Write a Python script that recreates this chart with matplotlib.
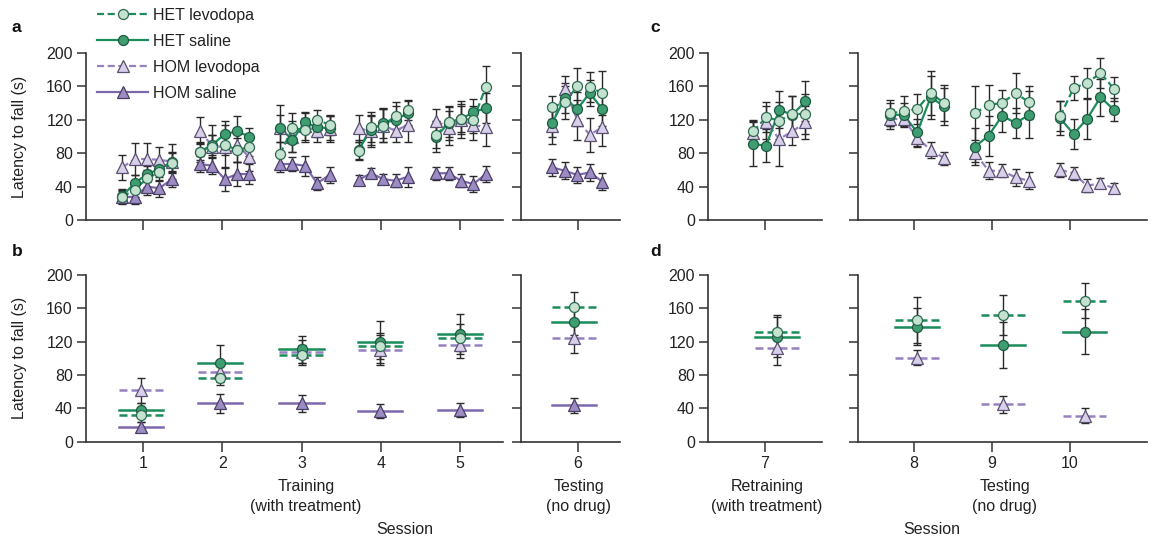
import matplotlib
matplotlib.use("Agg")
import matplotlib.pyplot as plt
from matplotlib.lines import Line2D

plt.rcParams['font.family'] = ['Liberation Sans', 'DejaVu Sans']

# ---------------- data ----------------
sessions = [1, 2, 3, 4, 5, 6, 7, 8, 9, 10]
series_names = ['HET levodopa', 'HET saline', 'HOM levodopa', 'HOM saline']

# top panels (a, c): per-trial latency (5 trials per session)
het_lev_trials = [[28, 36, 50, 57, 68], [82, 88, 90, 84, 87], [79, 110, 108, 120, 114],
                  [83, 111, 113, 125, 132], [102, 117, 121, 120, 159], [135, 141, 160, 159, 152],
                  [106, 123, 119, 127, 127], [128, 130, 133, 152, 140], [128, 138, 140, 152, 141],
                  [124, 158, 164, 176, 157]]
het_lev_trials_err = [[8, 9, 10, 10, 12], [12, 14, 12, 14, 10], [14, 18, 14, 12, 12],
                      [10, 18, 20, 16, 12], [16, 18, 16, 16, 26], [14, 20, 22, 18, 26],
                      [14, 18, 22, 22, 24], [16, 18, 18, 26, 22], [32, 24, 16, 24, 20],
                      [18, 14, 18, 18, 14]]
het_sal_trials = [[29, 44, 55, 61, 70], [82, 90, 103, 106, 100], [110, 96, 117, 111, 110],
                  [84, 108, 116, 120, 128], [100, 116, 121, 129, 134], [116, 146, 133, 152, 133],
                  [91, 89, 132, 126, 142], [126, 126, 105, 147, 136], [88, 101, 125, 116, 126],
                  [122, 103, 121, 147, 132]]
het_sal_trials_err = [[8, 10, 10, 10, 12], [10, 12, 16, 18, 10], [16, 14, 12, 12, 14],
                      [12, 18, 18, 16, 14], [18, 20, 18, 16, 18], [16, 18, 20, 16, 20],
                      [26, 20, 22, 22, 24], [14, 14, 16, 26, 22], [22, 24, 20, 18, 28],
                      [20, 18, 24, 22, 14]]
hom_lev_trials = [[63, 73, 73, 72, 70], [107, 88, 88, 90, 75], [110, 100, 112, 107, 109],
                  [110, 106, 113, 107, 114], [119, 110, 120, 114, 111], [113, 157, 120, 102, 111],
                  [104, 117, 97, 106, 117], [121, 121, 98, 84, 74], [80, 59, 59, 51, 47],
                  [60, 56, 41, 44, 38]]
hom_lev_trials_err = [[15, 19, 19, 16, 21], [16, 26, 26, 20, 16], [28, 18, 16, 14, 16],
                      [16, 18, 20, 14, 20], [14, 20, 22, 18, 22], [22, 16, 24, 20, 22],
                      [14, 20, 32, 16, 20], [12, 10, 10, 10, 8], [10, 10, 8, 10, 10],
                      [8, 8, 8, 6, 6]]
hom_sal_trials = [[27, 28, 40, 38, 49], [67, 65, 49, 55, 55], [67, 67, 65, 44, 54],
                  [48, 56, 49, 47, 52], [56, 56, 47, 43, 55], [63, 59, 54, 57, 46]]
hom_sal_trials_err = [[8, 9, 10, 10, 10], [10, 10, 14, 14, 12], [10, 8, 12, 8, 10],
                      [6, 6, 6, 8, 12], [8, 8, 8, 10, 10], [10, 10, 10, 10, 10]]

# bottom panels (b, d): session means
het_lev_mean = [32, 76, 104, 115, 125, 162, 132, 146, 152, 169]
het_lev_mean_err = [8, 8, 12, 16, 16, 18, 20, 28, 24, 21]
het_sal_mean = [38, 95, 111, 120, 129, 144, 126, 138, 116, 132]
het_sal_mean_err = [8, 21, 16, 25, 24, 16, 24, 22, 28, 27]
hom_lev_mean = [62, 84, 108, 110, 116, 124, 112, 101, 45, 31]
hom_lev_mean_err = [15, 12, 14, 18, 16, 18, 20, 9, 10, 9]
hom_sal_mean = [18, 46, 46, 37, 38, 44]
hom_sal_mean_err = [6, 11, 10, 8, 8, 9]

yticks = [0, 40, 80, 120, 160, 200]
ylabel = 'Latency to fall (s)'

# ---------------- layout / style ----------------
W, H = 1154, 541
fig = plt.figure(figsize=(W / 100, H / 100), dpi=100)

DASH = (3.2, 1.6)
styles = {
    'HET levodopa': dict(marker='o', mfc='#c3e3d0', mec='#2e6a50', color='#1b8c5c', dashed=True, ms=7.2),
    'HET saline': dict(marker='o', mfc='#3f9d72', mec='#1d5a40', color='#1b8c5c', dashed=False, ms=7.2),
    'HOM levodopa': dict(marker='^', mfc='#d7d0e8', mec='#5b5072', color='#9581c0', dashed=True, ms=8.5),
    'HOM saline': dict(marker='^', mfc='#9c8cc3', mec='#4a3e66', color='#7d68ad', dashed=False, ms=8.5),
}
top_data = {
    'HET levodopa': (het_lev_trials, het_lev_trials_err),
    'HET saline': (het_sal_trials, het_sal_trials_err),
    'HOM levodopa': (hom_lev_trials, hom_lev_trials_err),
    'HOM saline': (hom_sal_trials, hom_sal_trials_err),
}
bot_data = {
    'HET levodopa': (het_lev_mean, het_lev_mean_err),
    'HET saline': (het_sal_mean, het_sal_mean_err),
    'HOM levodopa': (hom_lev_mean, hom_lev_mean_err),
    'HOM saline': (hom_sal_mean, hom_sal_mean_err),
}
draw_order = ['HOM saline', 'HOM levodopa', 'HET saline', 'HET levodopa']

# panel geometry (pixels)
panels = [
    dict(x0=86, x1=503, xlim=(0.28, 5.54), sess=[1, 2, 3, 4, 5], ylab=True, spacing=0.156),
    dict(x0=521, x1=620, xlim=(5.28, 6.53), sess=[6], ylab=False, spacing=0.158),
    dict(x0=708, x1=822, xlim=(6.28, 7.72), sess=[7], ylab=True, spacing=0.165),
    dict(x0=858, x1=1147, xlim=(7.28, 10.99), sess=[8, 9, 10], ylab=False, spacing=0.173),
]
top_center = {1: 1.05, 2: 2.03, 3: 3.04, 4: 4.03, 5: 5.01, 6: 5.99, 7: 7.18, 8: 8.04, 9: 9.13, 10: 10.22}
bot_center = {1: 0.97, 2: 1.97, 3: 3.0, 4: 3.99, 5: 5.0, 6: 5.95, 7: 7.15, 8: 8.04, 9: 9.14, 10: 10.19}
HALF = 0.28
rows = {'top': (53, 220), 'bot': (275, 441.7)}
SPINE = '#333333'


def make_ax(p, row):
    yt, yb = rows[row]
    ax = fig.add_axes([p['x0'] / W, 1 - yb / H, (p['x1'] - p['x0']) / W, (yb - yt) / H])
    ax.set_xlim(*p['xlim'])
    ax.set_ylim(0, 200)
    for s in ['top', 'right']:
        ax.spines[s].set_visible(False)
    for s in ['left', 'bottom']:
        ax.spines[s].set_color(SPINE)
        ax.spines[s].set_linewidth(1.2)
    ax.set_yticks(yticks)
    ax.set_xticks(p['sess'])
    ax.tick_params(axis='y', direction='out', length=6.5, width=1.1, color=SPINE,
                   labelsize=11.5, labelcolor='#222', pad=3, labelleft=p['ylab'])
    ax.tick_params(axis='x', direction='out', length=7.5, width=1.1, color=SPINE,
                   labelsize=11.5, labelcolor='#222', pad=3, labelbottom=(row == 'bot'))
    ax.patch.set_alpha(0)
    return ax


def lstyle(st):
    return (0, DASH) if st['dashed'] else '-'


for p in panels:
    # ---- top row: per-trial curves
    ax = make_ax(p, 'top')
    for name in draw_order:
        st = styles[name]
        vals, errs = top_data[name]
        for s in p['sess']:
            if s - 1 >= len(vals):
                continue
            y = vals[s - 1]
            e = errs[s - 1]
            x = [top_center[s] + (k - 2) * p['spacing'] for k in range(len(y))]
            ax.errorbar(x, y, yerr=e, fmt='none', ecolor='#2a2a2a', elinewidth=1.0,
                        capsize=3, capthick=1.0, zorder=2)
            ax.plot(x, y, color=st['color'], lw=1.6, ls=lstyle(st), zorder=3)
            ax.plot(x, y, ls='none', marker=st['marker'], ms=st['ms'], mfc=st['mfc'],
                    mec=st['mec'], mew=0.9, zorder=4)

    # ---- bottom row: session means
    axb = make_ax(p, 'bot')
    for name in draw_order:
        st = styles[name]
        vals, errs = bot_data[name]
        for s in p['sess']:
            if s - 1 >= len(vals):
                continue
            c = bot_center[s]
            m = vals[s - 1]
            axb.errorbar([c], [m], yerr=[errs[s - 1]], fmt='none', ecolor='#2a2a2a',
                         elinewidth=1.0, capsize=3, capthick=1.0, zorder=2)
            axb.plot([c - HALF, c + HALF], [m, m], color=st['color'], lw=1.8,
                     ls=lstyle(st), zorder=3)
            axb.plot([c], [m], ls='none', marker=st['marker'], ms=st['ms'], mfc=st['mfc'],
                     mec=st['mec'], mew=0.9, zorder=4)

# ---------------- text ----------------
FS = 11.5
for lab, (x, y) in {'a': (12, 28), 'b': (12, 252), 'c': (650, 28), 'd': (650, 252)}.items():
    fig.text(x / W, 1 - y / H, lab, fontsize=12.5, fontweight='bold', ha='left', va='center',
             color='#111')
for yc in (137, 358):
    fig.text(20 / W, 1 - yc / H, ylabel, rotation=90, fontsize=FS, ha='center', va='center',
             color='#222')

group_labels = [
    ('Training\n(with treatment)', 306),
    ('Testing\n(no drug)', 579),
    ('Retraining\n(with treatment)', 767),
    ('Testing\n(no drug)', 1005),
]
for txt, x in group_labels:
    fig.text(x / W, 1 - 479 / H, txt, fontsize=FS, ha='center', va='top', color='#222',
             linespacing=1.45)
for x in (405, 932):
    fig.text(x / W, 1 - 530 / H, 'Session', fontsize=FS, ha='center', va='center', color='#222')

# ---------------- legend ----------------
handles = []
for name in series_names:
    st = styles[name]
    handles.append(Line2D([], [], color=st['color'], lw=1.6, ls=lstyle(st), marker=st['marker'],
                          ms=st['ms'], mfc=st['mfc'], mec=st['mec'], mew=0.9))
fig.legend(handles, series_names, loc='upper left', bbox_to_anchor=(97 / W, 1 - 8 / H),
           frameon=False, fontsize=FS, handlelength=3.2, handletextpad=0.3,
           labelspacing=0.68, borderpad=0, borderaxespad=0, labelcolor='#222')

fig.savefig('out.png', dpi=100)
